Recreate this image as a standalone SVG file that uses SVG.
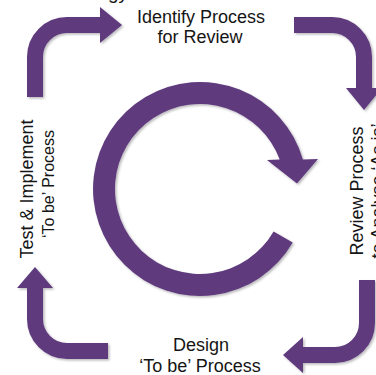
<svg xmlns="http://www.w3.org/2000/svg" width="376" height="375" viewBox="0 0 376 375">
  <defs>
    <filter id="soft-shadow" x="-10%" y="-10%" width="130%" height="130%">
      <feDropShadow dx="1.5" dy="1.5" stdDeviation="1.2" flood-color="#000" flood-opacity="0.28"/>
    </filter>
  </defs>
  <style>
    .label { font-family: "Liberation Sans", Arial, sans-serif; font-size: 18px; fill: #151515; text-anchor: middle; }
    .small { font-size: 16px; }
    .band { fill: none; stroke: #5E3A7E; stroke-width: 16; stroke-linecap: butt; stroke-linejoin: miter; }
    .head { fill: #5E3A7E; }
    .ring { fill: #5E3A7E; }
    .shadowed { filter: url(#soft-shadow); }
  </style>

  <rect width="376" height="375" fill="#ffffff"/>

  <!-- heading line above, clipped by the top edge -->
  <text class="label" x="108" y="-1" style="text-anchor:start;font-size:19px">gy</text>

  <!-- central cycle arrow -->
  <g id="cycle" class="shadowed">
    <path class="ring" d="M292.7 242.5 A107 107 0 1 1 302.9 159.5 L318 159 L297 183.5 L267 160 L279.7 159.5 A85 85 0 1 0 273.6 231.5 Z"/>
  </g>

  <!-- step labels -->
  <g id="identify">
    <text class="label" x="201" y="23">Identify Process</text>
    <text class="label" x="200" y="43">for Review</text>
  </g>

  <g id="review">
    <text class="label" transform="translate(363,191) rotate(-90)">Review Process</text>
    <text class="label" transform="translate(384,191) rotate(-90)">to Analyse ‘As is’</text>
  </g>

  <g id="design">
    <text class="label" x="201" y="351">Design</text>
    <text class="label" x="200" y="372">‘To be’ Process</text>
  </g>

  <g id="test">
    <text class="label" transform="translate(33,189) rotate(-90)">Test &amp; Implement</text>
    <text class="label small" transform="translate(54,184) rotate(-90)">‘To be’ Process</text>
  </g>

  <!-- corner arrows linking the steps -->
  <g id="connectors" class="shadowed">
    <!-- test -> identify -->
    <path class="band" d="M35 97 V57 A32 32 0 0 1 67 25 H101"/>
    <polygon class="head" points="100,7 122,25 100,43"/>
    <!-- identify -> review -->
    <path class="band" d="M294 25 H332 A32 32 0 0 1 364 57 V89"/>
    <polygon class="head" points="346,88 364,110 382,88"/>
    <!-- review -> design -->
    <path class="band" d="M367 280 V323 A32 32 0 0 1 335 355 H302"/>
    <polygon class="head" points="303,337 283,355 303,373"/>
    <!-- design -> test -->
    <path class="band" d="M108 351 H67 A32 32 0 0 1 35 319 V287"/>
    <polygon class="head" points="17,288 35,267 53,288"/>
  </g>
</svg>
